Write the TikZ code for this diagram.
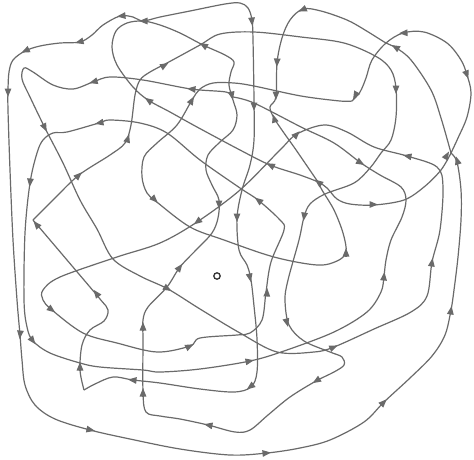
\documentclass[tikz,border=0pt]{standalone}
\usepackage{xcolor}
\usepackage{tikz}
\usetikzlibrary{arrows.meta}
\definecolor{Wire}{HTML}{6A6A6A}
\definecolor{Ink}{HTML}{333333}

\begin{document}
\begin{tikzpicture}[x=1pt,y=-1pt,
  wire/.style={draw=Wire,line width=1.2pt,line join=round},
  tipline/.style={wire,-{Triangle[length=8.5pt,width=6.5pt]}},
  dot/.style={circle,draw=Ink,line width=1.3pt,inner sep=0pt,minimum size=6.4pt}]
\fill[white] (0,0) rectangle (474,459);
\useasboundingbox (0,0) rectangle (474,459);
% outer loop and its inner branch
\draw[wire] plot[smooth,tension=0.55] coordinates {(451,153) (457,162) (461,190) (461,220) (458,257) (454,290) (451,310) (445,335) (432,356) (410,378) (384,402) (364,422) (330,440) (300,448) (267,453) (230,455) (180,449) (130,439) (90,430) (55,419) (35,405) (25,385) (22,360) (20,335) (17,300) (13,240) (10,170) (8,110) (8,90) (9,72) (13,60) (25,51) (40,46) (60,43) (80,42) (92,35) (103,25) (120,16) (133,17) (143,21) (160,17) (190,11) (225,4) (240,3) (248,8) (252,20) (253,40) (254,100) (254,140) (250,165) (242,190) (237,218) (239,250) (247,265) (251,280) (254,306) (257,339) (257,372) (251,387) (234,392) (200,389) (160,383) (133,380) (113,377) (95,384) (84,390)};
\draw[wire] plot[smooth,tension=0.55] coordinates {(84,390) (80,370) (82,345) (90,330) (104,321) (108,310) (100,299) (67,260) (33,220)};
\draw[wire] plot[smooth,tension=0.55] coordinates {(33,220) (55,198) (79,175) (110,155) (125,143) (131,125) (135,95) (140,80) (150,72) (167,63) (200,45) (220,34) (254,32) (301,37) (344,43) (377,57) (391,70) (396,88) (396,117) (391,140) (381,153) (370,168) (354,183) (325,194) (310,204) (304,217) (299,240) (288,280) (285,300) (289,325) (304,341) (330,352) (342,357) (344,365) (334,372) (316,381) (290,397) (268,415) (250,430) (235,432) (208,425) (180,419) (160,416) (146,412) (143,392) (143,340) (143,320) (148,307) (167,287) (180,267) (197,249) (212,233) (218,218) (219,200) (212,185) (206,170) (208,155) (220,142) (233,130) (237,115) (233,100) (229,85) (231,72) (234,62) (225,55) (203,45) (180,33) (160,25) (143,21) (127,23) (116,31) (112,47) (117,65) (133,87) (148,100) (170,112) (197,127) (240,150) (270,165) (300,175) (318,182) (327,188) (337,199) (350,204) (374,205) (404,200) (424,187) (441,170) (451,153)};
% top loop
\draw[wire] plot[smooth,tension=0.55] coordinates {(451,153) (441,118) (431,90) (411,60) (395,47) (386,43) (365,30) (347,20) (321,11) (303,9) (290,20) (282,38) (277,63) (276,97) (270,107) (274,118) (284,133) (294,147) (305,163) (318,182)};
% hook on the right
\draw[wire] plot[smooth,tension=0.55] coordinates {(451,153) (458,138) (467,117) (471,93) (467,75) (461,60) (447,43) (424,32) (403,33) (386,43) (372,60) (366,78) (360,92) (352,101)};
\draw[wire] plot[smooth,tension=0.55] coordinates {(352,101) (340,101) (301,96) (254,86) (234,83) (213,83) (200,89) (192,100) (177,125) (157,143) (144,157) (142,177) (147,193) (158,203) (190,227) (224,240) (274,257) (317,265) (337,261) (346,252) (343,233) (334,210) (322,190) (318,182)};
% long winding loop
\draw[wire] plot[smooth,tension=0.55] coordinates {(233,97) (254,103) (301,127) (334,143) (361,163) (380,175) (401,187) (406,200) (402,217) (391,240) (386,260) (384,276) (381,292) (367,312) (334,332) (284,351) (250,361) (200,369) (160,372) (143,370) (100,367) (80,363) (50,353) (33,341) (27,327) (24,300) (25,233) (30,183) (37,153) (43,140) (53,133) (67,132) (99,123) (110,120) (140,123) (167,133) (200,160) (240,188) (258,200) (280,220) (284,230) (271,262) (266,292) (262,320) (250,333) (237,335) (200,338) (190,346) (157,352) (117,343) (83,333) (52,310) (43,300) (43,290) (60,277) (117,257) (160,243) (197,222) (240,190) (280,150) (297,134) (324,125) (347,132) (374,147) (407,156) (437,167) (443,187) (440,230) (432,262) (427,296) (411,312) (374,329) (334,347) (314,352) (277,352) (240,333) (200,309) (168,289) (140,276) (113,259) (97,229) (80,200) (63,163) (45,128) (30,97) (22,79) (24,68) (33,72) (53,85) (73,89) (93,82) (110,77) (143,80) (191,89) (226,92) (233,97)};
% arrow heads
\foreach \xa/\ya/\xb/\yb in {
  251.6/18/252.4/26, 125/15.6/117/16.4, 82.9/41/75.1/43, 28.6/49.3/21.4/52.7,
  147/21/139/21, 8/89/8/97, 20.4/331/19.6/339, 87.1/429.2/94.9/430.8,
  263/453.4/271/452.6, 381.2/404.8/386.8/399.2, 450.4/314/451.6/306,
  305.6/8.4/298.4/11.6, 398.5/49/391.5/45, 407/32.8/399/33.2,
  465.6/71.2/468.4/78.8, 357/92.5/353/99.5, 396/86/396/94,
  277.2/59/276.8/67, 276/92/276/100, 275.2/121.8/272.8/114.2,
  370/204.5/378/204.5, 254/103/254/111, 206.5/47/199.5/43,
  161.6/67/168.4/63, 151.2/102.2/144.8/97.8, 126.8/141.8/129.2/134.2,
  76.1/177.8/81.9/172.2, 38.6/227/33.4/221, 98.4/296.2/93.6/289.8,
  96.8/80.9/89.2/83.1, 195/89.4/187/88.6, 231.2/92/232.8/100,
  43.2/124.4/46.8/131.6, 30.4/179/29.6/187, 103/122.2/95/123.8,
  261.2/202.4/254.8/197.6, 200.2/219.6/193.8/224.4, 219/201/219/209,
  237/214/237/222, 249.2/274/250.8/282, 266.8/296/267.2/288,
  177.6/270.2/182.4/263.8, 164.6/287/171.4/291, 143/330/143/322,
  143/396/143/388, 80/370/80/362, 136/380.4/128/379.6,
  48.8/307.6/55.2/312.4, 30.6/337.8/35.4/344.2, 186.4/347.8/193.6/344.2,
  246/361.8/254/360.2, 253.2/384.6/246.8/389.4, 212/425.8/204/424.2,
  319.4/378.9/312.6/383.1, 330.3/348.6/337.7/345.4, 286/319.1/288/326.9,
  304.6/213/303.4/221, 383.6/280/384.4/272, 431.4/266/432.6/258,
  357.6/161/364.4/165, 294.2/136.8/299.8/131.2, 411/156.8/403/155.2,
  445/158.5/449/151.5, 458.2/163.8/455.8/156.2, 346/256/346/248,
  152.2/197.2/157.8/202.8, 190/103.5/194/96.5, 273.6/166.8/266.4/163.2,
  321.2/184.4/314.8/179.6}
  \draw[tipline] (\xa,\ya) -- (\xb,\yb);
\node[dot] (origin) at (217,276) {};
\end{tikzpicture}
\end{document}
